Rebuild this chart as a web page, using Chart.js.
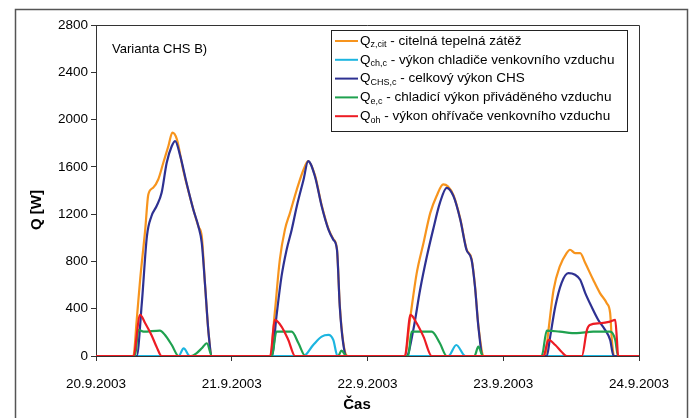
<!DOCTYPE html>
<html>
<head>
<meta charset="utf-8">
<script src="https://cdn.jsdelivr.net/npm/chart.js@4.4.0/dist/chart.umd.js"></script>
<style>
  html, body { margin: 0; padding: 0; background: #fff; }
  #wrap { position: relative; width: 693px; height: 418px; }
</style>
</head>
<body>
<div id="wrap"><canvas id="chsChart" width="693" height="418"></canvas></div>
<script>
// Varianta CHS B) - průběh výkonů 20.9.2003 - 24.9.2003
// čas v hodinách od 20.9.2003 0:00, výkon ve W

const dayLabels = ['20.9.2003', '21.9.2003', '22.9.2003', '23.9.2003', '24.9.2003'];

// Q z,cit - citelná tepelná zátěž
const tZcit = [0, 6.6, 7.2, 7.8, 8.7, 9.25, 10.1, 11.0, 11.9, 12.8, 13.5, 14.3, 15.4, 16.9, 18.1, 18.7, 19.3, 19.9, 20.5,
  30.8, 31.6, 32.5, 33.4, 34.3, 35.5, 36.7, 37.5, 38.7, 39.9, 41.1, 41.95, 42.6, 43.1, 43.7, 44.5,
  54.6, 55.5, 56.7, 57.9, 59.1, 60.2, 61.4, 62.2, 63.2, 64.4, 65.5, 66.4, 67.0, 67.6, 68.6,
  79.4, 80.0, 80.9, 82.0, 83.2, 83.8, 84.7, 85.6, 86.5, 87.9, 89.1, 90.3, 90.9, 91.2, 91.6, 96];
const qZcit = [0, 0, 305, 645, 1069, 1366, 1423, 1493, 1635, 1776, 1889, 1833, 1578, 1295, 1097, 1012, 588, 193, 0,
  0, 362, 815, 1069, 1211, 1408, 1578, 1649, 1530, 1275, 1075, 990, 905, 430, 120, 0,
  0, 305, 701, 956, 1211, 1352, 1451, 1435, 1360, 1160, 905, 820, 595, 260, 0,
  0, 221, 560, 758, 871, 899, 871, 871, 786, 645, 532, 447, 362, 136, 0, 0];

// Q ch,c - výkon chladiče venkovního vzduchu
const tChc = [0, 14.6, 15.5, 16.6, 36.7, 38.4, 39.9, 41.1, 41.95, 42.7, 62.3, 63.7, 65.3, 96];
const qChc = [0, 0, 65, 0, 0, 93, 164, 178, 136, 0, 0, 93, 0, 0];

// Q CHS,c - celkový výkon CHS
const tChs = [0, 7.2, 8.1, 9.0, 9.8, 10.7, 11.6, 12.5, 13.4, 14.0, 14.9, 16.0, 17.2, 18.1, 18.7, 19.3, 19.9, 20.5,
  31.1, 31.9, 32.8, 33.7, 34.6, 35.5, 36.7, 37.5, 38.7, 39.9, 41.1, 41.95, 42.6, 43.1, 43.7, 44.3,
  54.9, 56.1, 57.3, 58.5, 59.6, 60.8, 62.0, 63.2, 64.4, 65.5, 66.4, 67.0, 67.6, 68.4,
  79.7, 80.3, 81.2, 82.3, 83.5, 84.7, 85.6, 86.5, 87.6, 88.8, 90.0, 90.9, 91.5, 96];
const qChs = [0, 0, 447, 1012, 1182, 1267, 1380, 1635, 1776, 1818, 1691, 1465, 1239, 1097, 956, 588, 193, 0,
  0, 333, 673, 899, 1069, 1267, 1493, 1649, 1521, 1267, 1069, 984, 899, 418, 108, 0,
  0, 221, 560, 843, 1069, 1295, 1423, 1352, 1154, 899, 815, 588, 249, 0,
  0, 164, 418, 617, 701, 687, 645, 532, 418, 305, 221, 136, 0, 0];

// Q e,c - chladicí výkon přiváděného vzduchu
const tEc = [0, 6.9, 7.5, 8.4, 11.3, 12.2, 13.4, 14.6, 16.8, 17.8, 18.7, 19.6, 20.5,
  31.1, 31.9, 33.1, 34.6, 35.8, 37.0, 42.8, 43.4, 44.3,
  55.2, 55.8, 57.3, 59.35, 60.8, 62.0, 66.9, 67.6, 68.4,
  78.8, 79.7, 82.0, 85.0, 87.9, 90.9, 91.8, 92.3, 96];
const qEc = [0, 0, 221, 206, 215, 178, 93, 0, 0, 25, 65, 108, 0,
  0, 206, 206, 206, 108, 0, 0, 45, 0,
  0, 206, 206, 206, 108, 0, 0, 79, 0,
  0, 215, 206, 193, 206, 206, 136, 0, 0];

// Q oh - výkon ohřívače venkovního vzduchu
const tOh = [0, 6.6, 7.8, 8.7, 9.8, 10.7, 11.6,
  30.8, 31.6, 32.8, 34.0, 35.2,
  54.6, 55.6, 56.7, 57.9, 59.35,
  79.1, 80.0, 81.2, 82.3, 83.2, 85.9, 86.8, 87.3, 89.1, 90.9, 91.8, 92.1, 92.3, 96];
const qOh = [0, 0, 348, 277, 178, 79, 0,
  0, 305, 249, 136, 0,
  0, 348, 277, 164, 0,
  0, 136, 93, 36, 0, 0, 221, 263, 277, 291, 305, 136, 0, 0];

const series = [
  { sub: 'z,cit', text: ' - citelná tepelná zátěž', color: '#f7941d', t: tZcit, q: qZcit, order: 4 },
  { sub: 'ch,c', text: ' - výkon chladiče venkovního vzduchu', color: '#1cb5e0', t: tChc, q: qChc, order: 3 },
  { sub: 'CHS,c', text: ' - celkový výkon CHS', color: '#2e3192', t: tChs, q: qChs, order: 2 },
  { sub: 'e,c', text: ' - chladicí výkon přiváděného vzduchu', color: '#1fa14f', t: tEc, q: qEc, order: 1 },
  { sub: 'oh', text: ' - výkon ohřívače venkovního vzduchu', color: '#ed1c24', t: tOh, q: qOh, order: 0 }
];

const FONT = '"Liberation Sans", Arial, sans-serif';

// rámečky, popisky os a legenda s dolními indexy
const overlay = {
  id: 'overlay',
  beforeDraw(chart) {
    const ctx = chart.ctx;
    ctx.save();
    ctx.fillStyle = '#fff';
    ctx.fillRect(0, 0, chart.width, chart.height);
    ctx.strokeStyle = '#555';
    ctx.lineWidth = 1.5;
    ctx.strokeRect(15.5, 9.5, 672, 420);
    ctx.restore();
  },
  afterDraw(chart) {
    const ctx = chart.ctx;
    const a = chart.chartArea;
    ctx.save();
    ctx.strokeStyle = '#333';
    ctx.lineWidth = 1;
    ctx.beginPath();
    ctx.moveTo(a.left, a.top + 0.5);
    ctx.lineTo(a.right + 0.5, a.top + 0.5);
    ctx.lineTo(a.right + 0.5, a.bottom);
    ctx.stroke();

    ctx.fillStyle = '#000';
    ctx.textBaseline = 'middle';
    ctx.font = '13px ' + FONT;
    ctx.fillText('Varianta CHS B)', 112, 49);

    ctx.font = 'bold 15px ' + FONT;
    ctx.textAlign = 'center';
    ctx.fillText('Čas', 357, 405);
    ctx.save();
    ctx.translate(37, 210);
    ctx.rotate(-Math.PI / 2);
    ctx.fillText('Q [W]', 0, 0);
    ctx.restore();

    // legenda
    ctx.textAlign = 'left';
    ctx.fillStyle = '#fff';
    ctx.fillRect(331, 30, 296, 101);
    ctx.strokeStyle = '#222';
    ctx.strokeRect(331.5, 30.5, 296, 101);
    series.forEach((s, i) => {
      const y = 41 + i * 18.8;
      ctx.strokeStyle = s.color;
      ctx.lineWidth = 2;
      ctx.beginPath();
      ctx.moveTo(335, y);
      ctx.lineTo(358, y);
      ctx.stroke();
      ctx.fillStyle = '#000';
      let x = 360;
      ctx.font = '13.5px ' + FONT;
      ctx.fillText('Q', x, y);
      x += ctx.measureText('Q').width;
      ctx.font = '9px ' + FONT;
      ctx.fillText(s.sub, x, y + 4);
      x += ctx.measureText(s.sub).width;
      ctx.font = '13.5px ' + FONT;
      ctx.fillText(s.text, x, y);
    });
    ctx.restore();
  }
};

new Chart(document.getElementById('chsChart'), {
  type: 'line',
  data: {
    datasets: series.map(s => ({
      label: 'Q' + s.sub + s.text,
      data: s.t.map((t, i) => ({ x: t, y: s.q[i] })),
      borderColor: s.color,
      borderWidth: 2.2,
      pointRadius: 0,
      fill: false,
      cubicInterpolationMode: 'monotone',
      order: s.order
    }))
  },
  options: {
    responsive: false,
    animation: false,
    layout: { padding: { left: 0, right: 54, top: 25, bottom: 0 } },
    plugins: {
      legend: { display: false },
      tooltip: { enabled: false }
    },
    scales: {
      x: {
        type: 'linear',
        min: 0,
        max: 96,
        afterFit: s => { s.height = 62; },
        grid: { drawOnChartArea: false, drawTicks: true, tickLength: 5, color: '#333' },
        border: { display: true, color: '#333', width: 1 },
        ticks: {
          stepSize: 24,
          padding: 15,
          maxRotation: 0,
          color: '#000',
          font: { family: FONT, size: 13.5 },
          callback: v => dayLabels[v / 24]
        }
      },
      y: {
        min: 0,
        max: 2800,
        afterFit: s => { s.width = 96; },
        grid: { drawOnChartArea: false, drawTicks: true, tickLength: 5, color: '#333' },
        border: { display: true, color: '#333', width: 1 },
        ticks: {
          stepSize: 400,
          padding: 3,
          color: '#000',
          font: { family: FONT, size: 13.5 },
          callback: v => String(v)
        }
      }
    }
  },
  plugins: [overlay]
});
</script>
</body>
</html>
